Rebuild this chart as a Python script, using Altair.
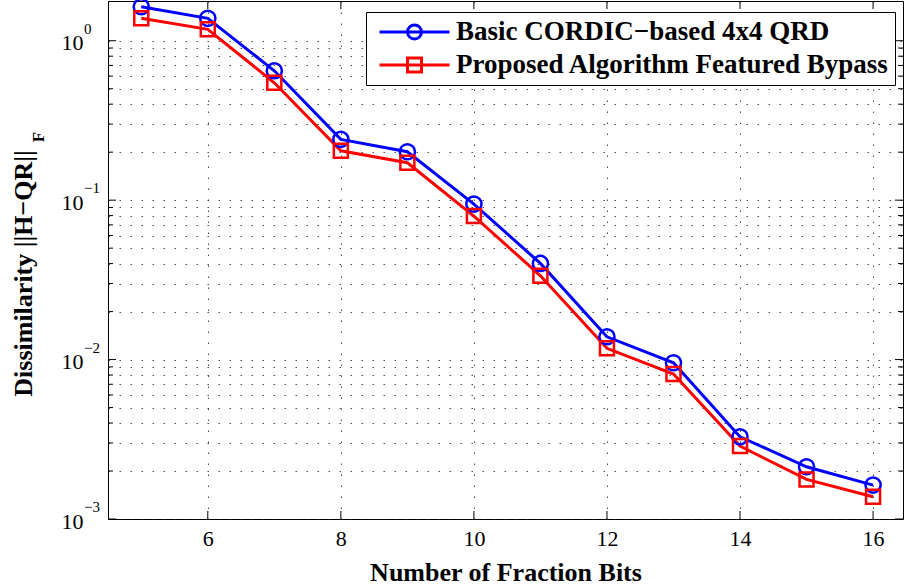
import altair as alt
import pandas as pd

# ---------------- data ----------------
bits = [5, 6, 7, 8, 9, 10, 11, 12, 13, 14, 15, 16]
basic = [1.634, 1.382, 0.648, 0.2406, 0.2012, 0.0945, 0.0401, 0.0139,
         0.00955, 0.00328, 0.002126, 0.001632]
proposed = [1.382, 1.179, 0.545, 0.204, 0.1716, 0.0795, 0.03355, 0.01176,
            0.00811, 0.002866, 0.001772, 0.001378]
series = ["Basic CORDIC\u2212based 4x4 QRD", "Proposed Algorithm Featured Bypass"]
colors = ["#0000ff", "#ff0000"]

x_ticks = [6, 8, 10, 12, 14, 16]
y_major = [0.001, 0.01, 0.1, 1]
y_exponents = ["\u22123", "\u22122", "\u22121", "0"]
y_minor = [0.002, 0.003, 0.004, 0.005, 0.006, 0.007, 0.008, 0.009,
           0.02, 0.03, 0.04, 0.05, 0.06, 0.07, 0.08, 0.09,
           0.2, 0.3, 0.4, 0.5, 0.6, 0.7, 0.8, 0.9]

# ---------------- tables ----------------
df = pd.DataFrame({
    "bits": bits * 2,
    "value": basic + proposed,
    "series": [series[0]] * len(bits) + [series[1]] * len(bits),
})
df_basic = df[df.series == series[0]]
df_prop = df[df.series == series[1]]
df_major = pd.DataFrame({"value": y_major, "e": y_exponents})
df_minor = pd.DataFrame({"value": y_minor})
df_xt = pd.DataFrame({"bits": x_ticks})

W, H = 795, 518
FONT = "Liberation Serif"

xscale = alt.Scale(domain=[4.5, 16.45], nice=False, zero=False)
yscale = alt.Scale(type="log", domain=[0.001, 1.775], nice=False)
cscale = alt.Scale(domain=series, range=colors)

circle_path = "M-1,0H1M0.2,0A0.2,0.2,0,1,1,-0.2,0A0.2,0.2,0,1,1,0.2,0"
square_path = "M-1,0H1M-0.2,-0.2H0.2V0.2H-0.2Z"
sscale = alt.Scale(domain=series, range=[circle_path, square_path])

x_axis = alt.Axis(
    values=x_ticks, grid=True, ticks=False, domain=False,
    title="Number of Fraction Bits",
    labelFont=FONT, labelFontSize=22, labelColor="black", labelPadding=9,
    titleFont=FONT, titleFontSize=26, titleFontWeight="bold", titleColor="black",
    titleY=61, titleBaseline="alphabetic",
    gridColor="#222", gridDash=[1.5, 9.5], gridWidth=1, gridOpacity=0.8,
)
y_axis = alt.Axis(
    values=y_major + y_minor, grid=True, ticks=False, domain=False,
    labelExpr="indexof([0.001, 0.01, 0.1, 1], datum.value) >= 0 ? '10' : ''",
    title="Dissimilarity ||H\u2212QR||",
    labelFont=FONT, labelFontSize=22, labelColor="black", labelPadding=25,
    labelBaseline="middle", labelOffset=2,
    titleFont=FONT, titleFontSize=26, titleFontWeight="bold", titleColor="black",
    titleAngle=270, titleX=-85, titleY=272, titleAlign="center",
    titleBaseline="middle",
    gridColor="#222", gridDash=[1.5, 9.5], gridWidth=1, gridOpacity=0.8,
)

X = alt.X("bits:Q", scale=xscale, axis=x_axis, title="Number of Fraction Bits")
Y = alt.Y("value:Q", scale=yscale, axis=y_axis, title="Dissimilarity ||H\u2212QR||")

legend_props = dict(
    title=None, orient="none", legendX=258, legendY=11, padding=5,
    strokeColor="black", fillColor="white", cornerRadius=0,
    labelFont=FONT, labelFontSize=27, labelFontWeight="bold", labelColor="black",
    labelLimit=0, symbolSize=4900, symbolStrokeWidth=3, clipHeight=30,
    rowPadding=3, symbolOffset=7, labelOffset=5,
)
C = alt.Color("series:N", scale=cscale, legend=alt.Legend(**legend_props), title=None)

lines = alt.Chart(df).mark_line(strokeWidth=3).encode(x=X, y=Y, color=C)

circles = alt.Chart(df_basic).mark_point(
    shape="circle", size=230, filled=False, strokeWidth=2.5, opacity=1
).encode(x=X, y=Y, color=C)
squares = alt.Chart(df_prop).mark_point(
    shape="square", size=196, filled=False, strokeWidth=2.5, opacity=1
).encode(x=X, y=Y, color=C)

legend_layer = alt.Chart(df).transform_filter("false").mark_point(
    filled=False, strokeWidth=3, size=4900, opacity=1
).encode(
    x=X, y=Y, color=C,
    shape=alt.Shape("series:N", scale=sscale, legend=alt.Legend(**legend_props), title=None),
)


def yticks(data, x0, x1):
    return alt.Chart(data).mark_rule(color="black", strokeWidth=1).encode(
        y=Y, x=alt.value(x0), x2=alt.value(x1),
    )


def xticks(y0, y1):
    return alt.Chart(df_xt).mark_rule(color="black", strokeWidth=1).encode(
        x=X, y=alt.value(y0), y2=alt.value(y1),
    )


tick_layers = [
    yticks(df_major, 0, 8), yticks(df_minor, 0, 5),
    yticks(df_major, W, W - 8), yticks(df_minor, W, W - 5),
    xticks(H, H - 8), xticks(0, 8),
]

exponents = alt.Chart(df_major).mark_text(
    font=FONT, fontSize=15, align="left", baseline="middle", color="black", dy=-12
).encode(y=Y, x=alt.value(-24), text="e:N")

sub_f = alt.Chart(pd.DataFrame({"t": ["F"]})).mark_text(
    font=FONT, fontSize=17, fontWeight="bold", angle=270,
    align="center", baseline="middle", color="black",
).encode(x=alt.value(-69), y=alt.value(136), text="t:N")

chart = alt.layer(
    lines, *tick_layers, circles, squares, legend_layer, exponents, sub_f
).properties(
    width=W, height=H,
    padding={"left": 108, "top": 1, "right": 1, "bottom": 68},
    autosize=alt.AutoSizeParams(type="none"),
    background="white",
).configure_view(stroke="black", strokeWidth=1)

chart.save("out.html", embed_options={"renderer": "svg", "actions": False})
